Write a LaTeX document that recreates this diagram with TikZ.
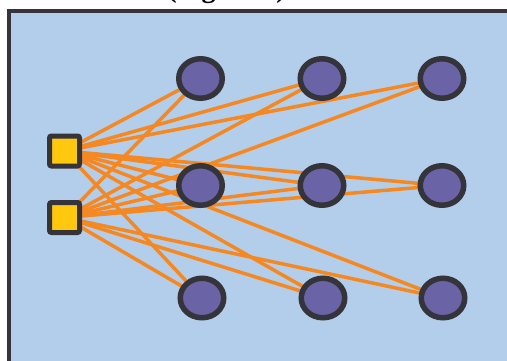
\documentclass[tikz,border=0pt]{standalone}
\usepackage{fontspec}
\setmainfont{Liberation Serif}
\usetikzlibrary{shapes.geometric,backgrounds}
\definecolor{panelblue}{RGB}{179,206,234}
\definecolor{darkline}{RGB}{52,52,58}
\definecolor{edgeorange}{RGB}{246,136,34}
\definecolor{srcyellow}{RGB}{255,200,14}
\definecolor{nodepurple}{RGB}{106,99,166}
\tikzset{
  srcbox/.style={rectangle, rounded corners=2pt, draw=darkline, line width=5pt, fill=srcyellow, minimum width=30pt, minimum height=30pt, inner sep=0pt},
  dstnode/.style={ellipse, draw=darkline, line width=5.5pt, fill=nodepurple, minimum width=43.5pt, minimum height=39.5pt, inner sep=0pt},
  edgeline/.style={draw=edgeorange, line width=3.5pt},
  panelbox/.style={draw=darkline, line width=3.5pt, fill=panelblue}
}
\begin{document}
\begin{tikzpicture}[x=1pt,y=-1pt]
\useasboundingbox (0,0) rectangle (507,360);
\clip (0,0) rectangle (507,360);
\node[anchor=base east, inner sep=0pt, font=\bfseries\fontsize{28}{30}\selectfont] (cap) at (293,-3) {of the source nodes (Figure 1).};
\node[srcbox] (s1) at (64.5,151) {};
\node[srcbox] (s2) at (64.5,217.5) {};
\node[dstnode] (c11) at (200.5,78.5) {};
\node[dstnode] (c12) at (322,78.5) {};
\node[dstnode] (c13) at (442,78.5) {};
\node[dstnode] (c21) at (200.5,185.5) {};
\node[dstnode] (c22) at (322,185.5) {};
\node[dstnode] (c23) at (442,185.5) {};
\node[dstnode] (c31) at (202,298) {};
\node[dstnode] (c32) at (323,298) {};
\node[dstnode] (c33) at (443,298) {};
\begin{pgfonlayer}{background}
  \path[panelbox] (9,11) rectangle (540,390);
  \foreach \s in {s1,s2}{
    \foreach \t in {c11,c12,c13,c21,c22,c23,c31,c32,c33}{
      \draw[edgeline] (\s.center) -- (\t.center);
    }
  }
\end{pgfonlayer}
\end{tikzpicture}
\end{document}
